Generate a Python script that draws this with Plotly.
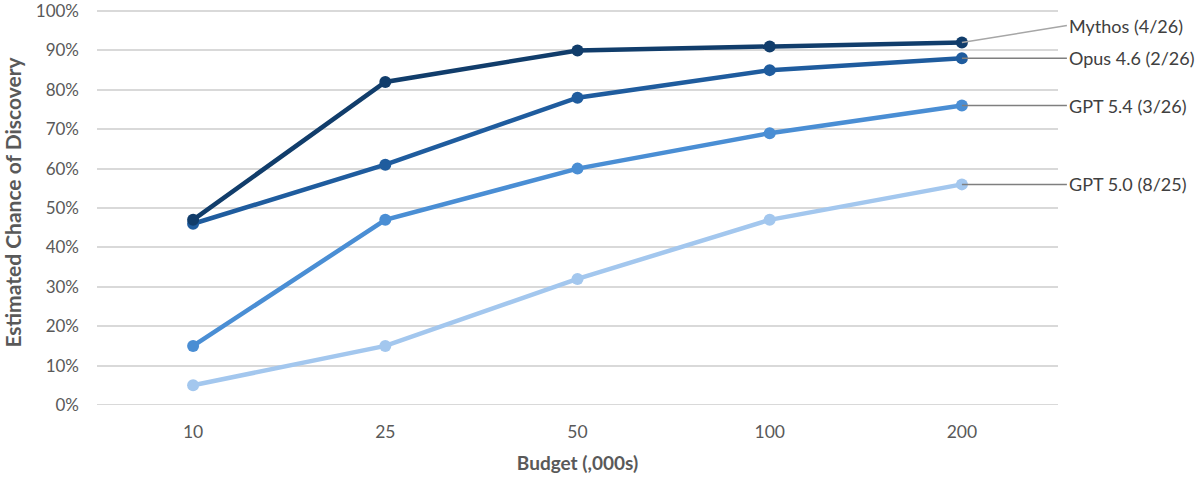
import plotly.graph_objects as go

categories = ["10", "25", "50", "100", "200"]
series_names = ["Mythos (4/26)", "Opus 4.6 (2/26)", "GPT 5.4 (3/26)", "GPT 5.0 (8/25)"]
mythos = [47, 82, 90, 91, 92]
opus46 = [46, 61, 78, 85, 88]
gpt54 = [15, 47, 60, 69, 76]
gpt50 = [5, 15, 32, 47, 56]
y_ticks = [0, 10, 20, 30, 40, 50, 60, 70, 80, 90, 100]

colors = ["#113d6b", "#1f5c9e", "#4a8ed4", "#a3c7ee"]
values = [mythos, opus46, gpt54, gpt50]

xs = list(range(len(categories)))
fig = go.Figure()
for name, vals, col in reversed(list(zip(series_names, values, colors))):
    fig.add_trace(go.Scatter(
        x=xs, y=vals, mode="lines+markers", name=name,
        line=dict(color=col, width=4.5),
        marker=dict(color=col, size=12),
        cliponaxis=False, showlegend=False,
    ))

font_family = "Lato, 'Noto Sans', sans-serif"
label_offsets = [(-17, "#a6a6a6"), (0, "#7f7f7f"), (0, "#7f7f7f"), (0, "#7f7f7f")]
for name, vals, (dy, lc) in zip(series_names, values, label_offsets):
    fig.add_annotation(
        x=xs[-1], y=vals[-1], xref="x", yref="y",
        text=name, showarrow=True, arrowhead=0, arrowwidth=1.5, arrowcolor=lc,
        ax=105, ay=dy, axref="pixel", ayref="pixel",
        xanchor="left", yanchor="middle",
        font=dict(family=font_family, size=18, color="#404040"),
        standoff=0, startstandoff=0,
    )

fig.update_layout(
    width=1200, height=477,
    margin=dict(l=97, r=142, t=0, b=72, autoexpand=False),
    paper_bgcolor="white", plot_bgcolor="white",
    font=dict(family=font_family, size=17, color="#595959"),
)
fig.update_xaxes(
    range=[-0.5, len(categories) - 0.5],
    tickmode="array", tickvals=xs, ticktext=categories,
    showgrid=False, zeroline=False, showline=False, ticks="",
    tickfont=dict(size=17.5, color="#595959"),
    ticklabelstandoff=14, automargin=False,
    title=dict(text="<b>Budget (,000s)</b>", font=dict(size=19, color="#595959"), standoff=16),
)
fig.update_yaxes(
    range=[0, 102.8],
    tickmode="array", tickvals=y_ticks, ticktext=[f"{v}%" for v in y_ticks],
    showgrid=True, gridcolor="#d9d9d9", gridwidth=1.5,
    zeroline=False, showline=False, ticks="",
    tickfont=dict(size=17, color="#595959"),
    ticklabelstandoff=17, ticklabeloverflow="allow", automargin=False,
    title=dict(text="<b>Estimated Chance of Discovery</b>", font=dict(size=21, color="#595959"), standoff=14),
)
fig.add_hline(y=0, line=dict(color="#d9d9d9", width=2), layer="below")
fig.add_hline(y=100, line=dict(color="#d9d9d9", width=1.5), layer="below")

fig.write_html("out.html")
